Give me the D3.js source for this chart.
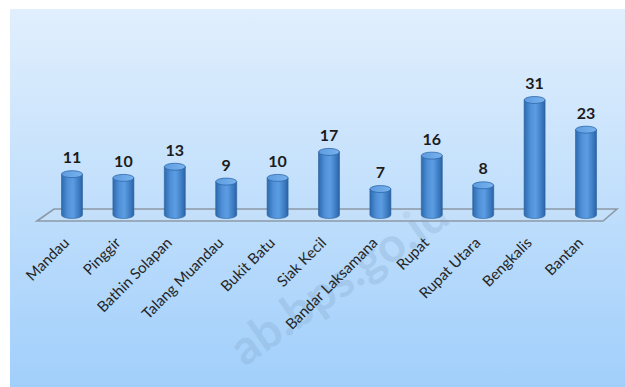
<!DOCTYPE html>
<html><head><meta charset="utf-8">
<script src="https://cdn.jsdelivr.net/npm/d3@7"></script>
<style>html,body{margin:0;padding:0;background:#fff;}svg{display:block;}</style>
</head><body>
<svg id="chart" width="625" height="387"></svg>
<script>
const categories = ["Mandau","Pinggir","Bathin Solapan","Talang Muandau","Bukit Batu","Siak Kecil","Bandar Laksamana","Rupat","Rupat Utara","Bengkalis","Bantan"];
const values = [11,10,13,9,10,17,7,16,8,31,23];
const watermark = "ab.bps.go.id";

const svg = d3.select("#chart");
const defs = svg.append("defs");

const bg = defs.append("linearGradient").attr("id","bg").attr("x1",0).attr("y1",0).attr("x2",0).attr("y2",1);
bg.append("stop").attr("offset","0%").attr("stop-color","#e1effd");
bg.append("stop").attr("offset","100%").attr("stop-color","#a1cffb");

const barG = defs.append("linearGradient").attr("id","barg").attr("x1",0).attr("y1",0).attr("x2",1).attr("y2",0);
[["0%","#2c6aad"],["30%","#4f90d8"],["55%","#5c9de2"],["85%","#3a78bf"],["100%","#2a62a3"]].forEach(([o,c])=>barG.append("stop").attr("offset",o).attr("stop-color",c));
const topG = defs.append("linearGradient").attr("id","topg").attr("x1",0).attr("y1",0).attr("x2",1).attr("y2",0);
[["0%","#5d9ce0"],["100%","#78b2ee"]].forEach(([o,c])=>topG.append("stop").attr("offset",o).attr("stop-color",c));

// background
svg.append("rect").attr("x",10).attr("y",9).attr("width",615).attr("height",378).attr("fill","url(#bg)");

// watermark
svg.append("text").attr("transform","translate(452,222) rotate(-35)")
  .attr("text-anchor","end")
  .attr("font-family","Lato, sans-serif").attr("font-size",48).attr("font-weight","bold")
  .attr("fill","#86a9cc").attr("fill-opacity",0.33).text(watermark);

const x = d3.scaleBand().domain(categories).range([46.3, 611.7]).padding(0);
const y = d3.scaleLinear().domain([0, 31]).range([215, 100]);
const bw = 21, ry = 3.5;

// floor
const fx0 = 37, fx1 = 603, depth = 17, fyFront = 221, fyBack = 209;
svg.append("path")
  .attr("d",`M${fx0},${fyFront} L${fx0+depth},${fyBack} L${fx1+depth-3},${fyBack} L${fx1},${fyFront} Z`)
  .attr("fill","#cfe3f7").attr("fill-opacity",0.35)
  .attr("stroke","#8c99a6").attr("stroke-width",1.6);

const bars = svg.append("g").selectAll("g").data(categories).join("g");
bars.append("path")
  .attr("d",(d,i)=>{
    const cx = x(d)+x.bandwidth()/2, x0 = cx-bw/2, x1 = cx+bw/2, yt = y(values[i]), yb = y(0);
    return `M${x0},${yt} L${x0},${yb} A${bw/2},${ry} 0 0 0 ${x1},${yb} L${x1},${yt} Z`;
  })
  .attr("fill","url(#barg)").attr("stroke","#2a5f9c").attr("stroke-width",0.6);
bars.append("ellipse")
  .attr("cx",d=>x(d)+x.bandwidth()/2).attr("cy",(d,i)=>y(values[i]))
  .attr("rx",bw/2).attr("ry",ry)
  .attr("fill","url(#topg)").attr("stroke","#2d67a8").attr("stroke-width",0.8);

// value labels
svg.append("g").selectAll("text").data(categories).join("text")
  .attr("x",d=>x(d)+x.bandwidth()/2).attr("y",(d,i)=>y(values[i])-11)
  .attr("text-anchor","middle").attr("font-family","Lato, sans-serif").attr("font-weight","bold")
  .attr("font-size",16).attr("fill","#1c1c1c").text((d,i)=>values[i]);

// category labels
svg.append("g").selectAll("text").data(categories).join("text")
  .attr("transform",d=>`translate(${x(d)+x.bandwidth()/2-5.5},${240}) rotate(-45)`)
  .attr("text-anchor","end").attr("dy","0.35em")
  .attr("font-family","Lato, sans-serif").attr("font-size",15).attr("fill","#262626")
  .text(d=>d);
</script>
</body></html>
